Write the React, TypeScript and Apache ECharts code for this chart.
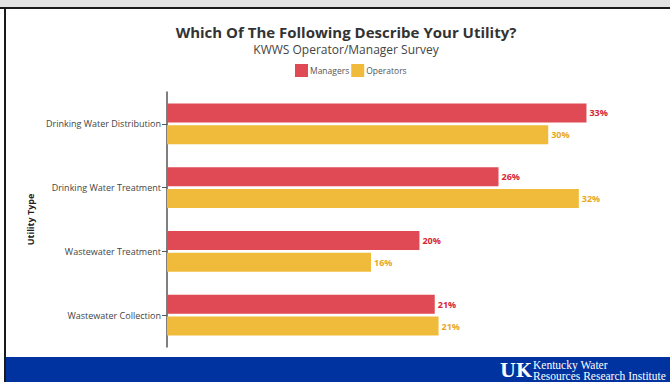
import React, { useEffect, useRef } from "react";
import * as echarts from "echarts";

const categories = [
  "Drinking Water Distribution",
  "Drinking Water Treatment",
  "Wastewater Treatment",
  "Wastewater Collection",
];
const managers = [32.9, 26.0, 19.8, 21.0];
const operators = [29.9, 32.3, 16.0, 21.3];
const seriesNames = ["Managers", "Operators"];

const FONT = "'Open Sans', 'Noto Sans', sans-serif";

export default function App() {
  const ref = useRef<HTMLDivElement>(null);
  useEffect(() => {
    document.body.style.margin = "0";
    const chart = echarts.init(ref.current!, null, { renderer: "svg" });
    const cats = [...categories].reverse();
    const m = [...managers].reverse();
    const o = [...operators].reverse();
    const lbl = (color: string) => ({
      show: true,
      position: "right" as const,
      distance: 3,
      color,
      fontSize: 9,
      fontWeight: "bold" as const,
      fontFamily: FONT,
      formatter: (p: any) => Math.round(p.value) + "%",
    });
    chart.setOption({
      animation: false,
      backgroundColor: "#ffffff",
      title: [
        {
          text: "Which Of The Following Describe Your Utility?",
          left: 346,
          textAlign: "center",
          top: 24,
          padding: 0,
          textStyle: { fontFamily: FONT, fontSize: 15, lineHeight: 16, fontWeight: "bold", color: "#333" },
        },
        {
          text: "KWWS Operator/Manager Survey",
          left: 346,
          textAlign: "center",
          top: 43,
          padding: 0,
          textStyle: { fontFamily: FONT, fontSize: 12, lineHeight: 12, fontWeight: "normal", color: "#444" },
        },
      ],
      legend: {
        data: seriesNames,
        top: 64,
        left: 295,
        padding: 0,
        icon: "rect",
        itemWidth: 13,
        itemHeight: 13,
        itemGap: 2,
        textStyle: { fontFamily: FONT, fontSize: 8.5, color: "#555", padding: [0, 0, 0, -3] },
      },
      grid: { left: 167, right: 44, top: 92, bottom: 35, containLabel: false },
      xAxis: {
        type: "value",
        min: 0,
        max: 36,
        show: false,
      },
      yAxis: {
        type: "category",
        data: cats,
        name: "Utility Type",
        nameLocation: "middle",
        nameGap: 130,
        nameRotate: 90,
        nameTextStyle: { fontFamily: FONT, fontSize: 9, fontWeight: "bold", color: "#222" },
        axisLine: { show: true, lineStyle: { color: "#555", width: 1.5 } },
        axisTick: { show: true, alignWithLabel: true, length: 5, lineStyle: { color: "#555" } },
        axisLabel: { fontFamily: FONT, fontSize: 9, color: "#444", margin: 6 },
        splitLine: { show: false },
      },
      series: [
        {
          name: "Managers",
          type: "bar",
          data: m,
          itemStyle: { color: "#e04a55" },
          label: lbl("#d82535"),
          barGap: "15%",
          barCategoryGap: "36%",
        },
        {
          name: "Operators",
          type: "bar",
          data: o,
          itemStyle: { color: "#f0bb3a" },
          label: lbl("#e8a81e"),
          barGap: "15%",
          barCategoryGap: "36%",
        },
      ],
      graphic: [
        { type: "rect", shape: { x: 0, y: 0, width: 670, height: 8 }, style: { fill: "#e2e2e2" }, silent: true },
        { type: "rect", shape: { x: 0, y: 7, width: 670, height: 2 }, style: { fill: "#1a1a1a" }, silent: true },
        { type: "rect", shape: { x: 4, y: 7, width: 2, height: 375 }, style: { fill: "#1a1a1a" }, silent: true },
        { type: "rect", shape: { x: 6, y: 357, width: 664, height: 25 }, style: { fill: "#0033a0" }, silent: true },
        {
          type: "text",
          x: 500,
          y: 361,
          style: { text: "UK", fill: "#ffffff", font: "bold 18px 'DejaVu Serif', serif" },
          silent: true,
        },
        {
          type: "text",
          x: 533,
          y: 359,
          style: { text: "Kentucky Water", fill: "#ffffff", font: "11.5px 'Liberation Serif', serif" },
          silent: true,
        },
        {
          type: "text",
          x: 533,
          y: 370,
          style: { text: "Resources Research Institute", fill: "#ffffff", font: "11.5px 'Liberation Serif', serif" },
          silent: true,
        },
      ],
    });
    return () => chart.dispose();
  }, []);
  return (
    <div
      ref={ref}
      style={{ width: 670, height: 382, position: "fixed", left: 0, top: 0 }}
    />
  );
}
